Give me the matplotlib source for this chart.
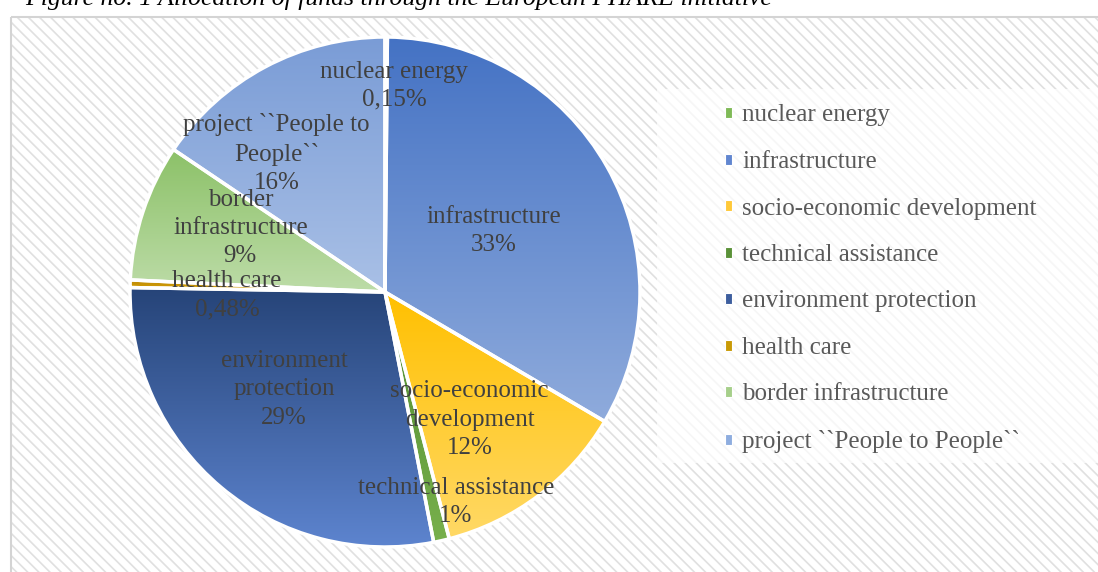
import numpy as np
import matplotlib
matplotlib.use('Agg')
import matplotlib.pyplot as plt
from matplotlib.patches import Rectangle, Patch
from matplotlib.colors import LinearSegmentedColormap

# slice data (clockwise from 12 o'clock)
categories = ['nuclear energy', 'infrastructure', 'socio-economic development',
              'technical assistance', 'environment protection', 'health care',
              'border infrastructure', 'project ``People to People``']
shares = [0.15, 33.4, 12.5, 1.0, 28.4, 0.48, 8.7, 15.6]
pct_labels = ['0,15%', '33%', '12%', '1%', '29%', '0,48%', '9%', '16%']
label_text = ['nuclear energy', 'infrastructure', 'socio-economic\ndevelopment',
              'technical assistance', 'environment\nprotection', 'health care',
              'border\ninfrastructure', 'project ``People to\nPeople``']

# gradient colours per slice (top, bottom)
top_colors = ['#6aa843', '#4472c4', '#ffc000', '#4f8a30', '#264478', '#b8860b', '#8cc168', '#7a9cd6']
bottom_colors = ['#a9d18e', '#8fabdc', '#ffd966', '#78b04c', '#5d84cf', '#e0a800', '#bddca8', '#a9c0e6']
legend_colors = ['#7fba57', '#6186d0', '#ffc939', '#5a9138', '#3d5e9e', '#c99a06', '#a6cf8a', '#8eaddf']

# label placement (radius fraction, angle clockwise from top)
label_r = [0.81, 0.49, 0.60, 0.87, 0.55, 0.62, 0.62, 0.69]
label_ang = [2.5, 60.8, 146.5, 161.4, 226.0, 268.9, 293.8, 322.0]

W, H = 1098, 572
fig = plt.figure(figsize=(W / 100, H / 100), dpi=100)
fig.patch.set_facecolor('white')

# hatched background
plt.rcParams['hatch.linewidth'] = 1.2
bg = fig.add_axes([0, 0, 1, 1])
bg.set_xlim(0, W)
bg.set_ylim(H, 0)
bg.axis('off')
bg.add_patch(Rectangle((11, 17), W, H, facecolor='white', edgecolor='#e0e0e0',
                       hatch='\\\\\\', lw=0))
bg.add_patch(Rectangle((11, 17), W, H, facecolor='none', edgecolor='#d4d4d4', lw=1.5))
bg.add_patch(Rectangle((657, 89), 442, 374, facecolor='white', edgecolor='none', alpha=0.72))

fig.text(25 / W, 1 - 5 / H, 'Figure no. 1 Allocation of funds through the European PHARE initiative',
         family='Liberation Serif', style='italic', fontsize=18.5, color='black', va='baseline')

# pie
cx, cy, R = 385, 292, 255
ax = fig.add_axes([(cx - R) / W, (H - cy - R) / H, 2 * R / W, 2 * R / H])
wedges, _ = ax.pie(shares, startangle=90, counterclock=False, radius=1,
                   wedgeprops=dict(edgecolor='white', linewidth=2.5))
grad = np.linspace(0, 1, 256).reshape(-1, 1)
for w, ctop, cbot in zip(wedges, top_colors, bottom_colors):
    ext = w.get_path().get_extents()
    cmap = LinearSegmentedColormap.from_list('g', [cbot, ctop])
    im = ax.imshow(grad, extent=(ext.x0, ext.x1, ext.y0, ext.y1), origin='lower',
                   cmap=cmap, aspect='auto', interpolation='bilinear', zorder=1)
    im.set_clip_path(w)
    w.set_facecolor('none')
    w.set_zorder(2)
ax.set_xlim(-1, 1)
ax.set_ylim(-1, 1)
ax.set_aspect('equal')
ax.axis('off')

for txt, pct, r, a in zip(label_text, pct_labels, label_r, label_ang):
    t = np.deg2rad(a)
    ax.text(r * np.sin(t), r * np.cos(t), txt + '\n' + pct, ha='center', va='center',
            family='Liberation Serif', fontsize=18, color='#404040', zorder=5,
            linespacing=1.36)

handles = [Patch(facecolor=c, edgecolor='white', lw=0.8) for c in legend_colors]
fig.legend(handles, categories, loc='upper left', bbox_to_anchor=(712 / W, 1 - 92 / H),
           frameon=False, borderpad=0, handlelength=0.3, handleheight=0.3,
           handletextpad=0.42, labelspacing=0.98,
           prop=dict(family='Liberation Serif', size=18), labelcolor='#595959')

fig.savefig('out.png', dpi=100)
